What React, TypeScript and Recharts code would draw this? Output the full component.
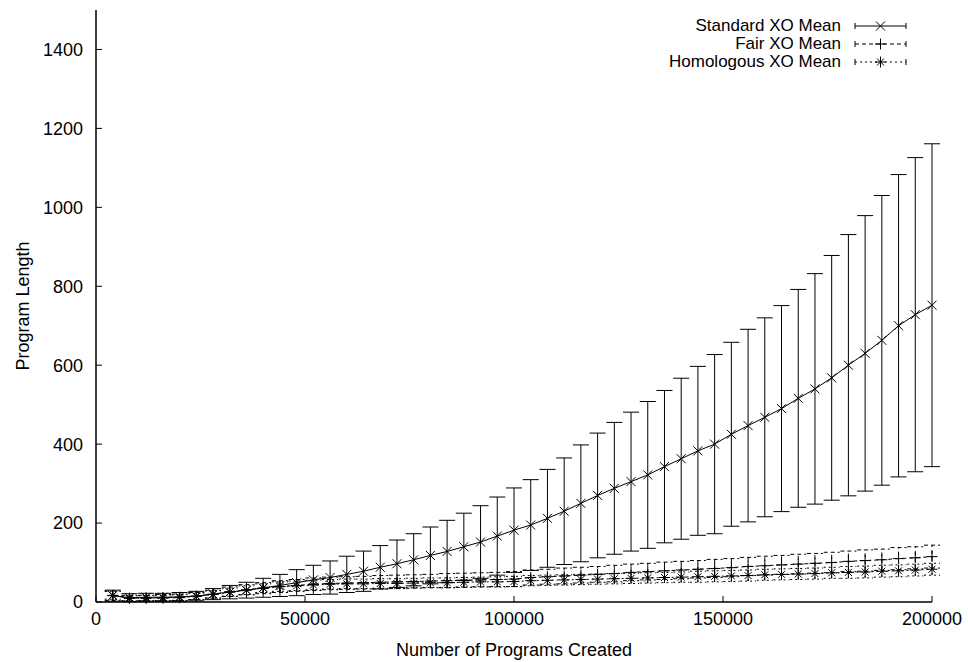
import { LineChart, Line, XAxis, YAxis, ErrorBar } from 'recharts'

// programs created (x)
const created = [
  4000, 8000, 12000, 16000, 20000, 24000, 28000, 32000, 36000, 40000,
  44000, 48000, 52000, 56000, 60000, 64000, 68000, 72000, 76000, 80000,
  84000, 88000, 92000, 96000, 100000, 104000, 108000, 112000, 116000, 120000,
  124000, 128000, 132000, 136000, 140000, 144000, 148000, 152000, 156000, 160000,
  164000, 168000, 172000, 176000, 180000, 184000, 188000, 192000, 196000, 200000,
]

const standardMean = [
  16, 11, 12, 12, 13, 15, 20, 25, 30, 36,
  42, 49, 56, 62, 70, 78, 88, 97, 107, 118,
  128, 140, 152, 167, 182, 195, 212, 230, 250, 270,
  288, 305, 322, 343, 363, 383, 400, 425, 447, 468,
  490, 516, 540, 568, 600, 630, 663, 700, 728, 752,
]
const standardErr = [
  14, 10, 10, 10, 11, 12, 14, 17, 20, 24,
  28, 33, 37, 42, 46, 51, 55, 60, 66, 72,
  79, 85, 92, 99, 107, 115, 124, 135, 148, 158,
  167, 176, 186, 193, 204, 214, 227, 233, 244, 252,
  261, 276, 292, 310, 331, 349, 367, 383, 398, 409,
]

const fairMean = [
  16, 10, 10, 11, 12, 15, 20, 26, 31, 35,
  39, 42, 45, 47, 48, 49, 50, 51, 52, 53,
  54, 55, 56, 57, 58, 62, 64, 66, 68, 70,
  72, 75, 77, 79, 81, 83, 85, 87, 90, 92,
  94, 96, 98, 100, 103, 105, 107, 110, 112, 115,
]
const fairErr = [
  12, 7, 7, 8, 8, 9, 10, 12, 13, 14,
  15, 15, 16, 16, 16, 16, 17, 17, 17, 17,
  18, 18, 18, 18, 19, 19, 19, 20, 20, 20,
  21, 21, 21, 22, 22, 22, 23, 23, 23, 24,
  24, 25, 25, 26, 26, 27, 27, 28, 28, 29,
]

const homologousMean = [
  17, 9, 10, 10, 11, 14, 19, 25, 30, 35,
  39, 41, 43, 45, 46, 46, 47, 47, 48, 49,
  49, 50, 51, 51, 52, 54, 55, 56, 57, 58,
  59, 60, 61, 62, 63, 64, 65, 66, 67, 69,
  70, 71, 72, 74, 75, 76, 78, 79, 81, 83,
]
const homologousErr = [
  10, 6, 6, 6, 7, 8, 9, 10, 11, 11,
  12, 12, 12, 12, 12, 12, 12, 12, 12, 12,
  12, 12, 12, 13, 13, 13, 13, 13, 13, 13,
  13, 13, 13, 13, 13, 14, 14, 14, 14, 14,
  14, 14, 14, 14, 15, 15, 15, 15, 15, 15,
]

const xTicks = [0, 50000, 100000, 150000, 200000]
const yTicks = [0, 200, 400, 600, 800, 1000, 1200, 1400]

const data = created.map((x, i) => ({
  x,
  std: standardMean[i],
  stdErr: standardErr[i],
  fair: fairMean[i],
  fairErr: fairErr[i],
  hom: homologousMean[i],
  homErr: homologousErr[i],
}))

const FONT = '"Liberation Sans", Arial, Helvetica, sans-serif'

type Mark = 'x' | 'plus' | 'star'

function markerPath(kind: Mark, cx: number, cy: number) {
  const s = 4.5
  const d = 3.5
  const cross = `M${cx - s},${cy - s}L${cx + s},${cy + s}M${cx - s},${cy + s}L${cx + s},${cy - s}`
  const plus = `M${cx - s - 1},${cy}L${cx + s + 1},${cy}M${cx},${cy - s - 1}L${cx},${cy + s + 1}`
  if (kind === 'x') return cross
  if (kind === 'plus') return plus
  return `M${cx - d},${cy - d}L${cx + d},${cy + d}M${cx - d},${cy + d}L${cx + d},${cy - d}` + plus
}

const dotFor = (kind: Mark) => (p: any) => (
  <path
    key={`${kind}-${p.index}`}
    d={markerPath(kind, p.cx, p.cy)}
    stroke="#000"
    strokeWidth={1}
    fill="none"
  />
)

const series = [
  { key: 'std', err: 'stdErr', name: 'Standard XO Mean', dash: undefined, mark: 'x' as Mark },
  { key: 'fair', err: 'fairErr', name: 'Fair XO Mean', dash: '4 3', mark: 'plus' as Mark },
  { key: 'hom', err: 'homErr', name: 'Homologous XO Mean', dash: '2 3', mark: 'star' as Mark },
]

function LegendSample({ dash, mark }: { dash?: string; mark: Mark }) {
  return (
    <svg width={53} height={18} style={{ display: 'block' }}>
      <line x1={1} y1={9} x2={52} y2={9} stroke="#000" strokeDasharray={dash} />
      <line x1={1} y1={6} x2={1} y2={12} stroke="#000" />
      <line x1={52} y1={6} x2={52} y2={12} stroke="#000" />
      <path d={markerPath(mark, 26.5, 9)} stroke="#000" fill="none" />
    </svg>
  )
}

const tickStyle = { fill: '#000', fontSize: 18 }

export default function App() {
  return (
    <div style={{ position: 'absolute', top: 0, left: 0, width: 968, height: 662, fontFamily: FONT, background: '#fff' }}>
      <LineChart width={968} height={662} data={data} margin={{ top: 10, right: 36, bottom: 0, left: 0 }}>
        <XAxis
          xAxisId="bottom"
          dataKey="x"
          type="number"
          domain={[0, 200000]}
          ticks={xTicks}
          interval={0}
          height={60}
          tick={tickStyle}
          tickSize={-6}
          tickMargin={16}
          axisLine={{ stroke: '#000', strokeWidth: 1.5 }}
          tickLine={{ stroke: '#000' }}
          label={{ value: 'Number of Programs Created', position: 'insideBottom', offset: 6, fill: '#000', fontSize: 18 }}
        />
        <XAxis
          xAxisId="top"
          orientation="top"
          dataKey="x"
          type="number"
          domain={[0, 200000]}
          ticks={xTicks}
          interval={0}
          height={0}
          tick={false}
          tickSize={-6}
          axisLine={{ stroke: '#000', strokeWidth: 1.5 }}
          tickLine={{ stroke: '#000' }}
        />
        <YAxis
          yAxisId="left"
          type="number"
          domain={[0, 1500]}
          ticks={yTicks}
          interval={0}
          width={96}
          tick={tickStyle}
          tickSize={-6}
          tickMargin={19}
          axisLine={{ stroke: '#000', strokeWidth: 1.5 }}
          tickLine={{ stroke: '#000' }}
          label={{
            value: 'Program Length',
            angle: -90,
            position: 'insideLeft',
            offset: 23,
            fill: '#000',
            fontSize: 18,
            style: { textAnchor: 'middle' },
          }}
        />
        <YAxis
          yAxisId="right"
          orientation="right"
          type="number"
          domain={[0, 1500]}
          ticks={yTicks}
          interval={0}
          width={0}
          tick={false}
          tickSize={-6}
          axisLine={{ stroke: '#000', strokeWidth: 1.5 }}
          tickLine={{ stroke: '#000' }}
        />
        {series.map((s) => (
          <Line
            key={s.key}
            xAxisId="bottom"
            yAxisId="left"
            type="linear"
            dataKey={s.key}
            stroke="#000"
            strokeWidth={1}
            strokeDasharray={s.dash}
            dot={dotFor(s.mark)}
            activeDot={false}
            isAnimationActive={false}
          >
            <ErrorBar dataKey={s.err} width={8} stroke="#000" strokeWidth={1} strokeDasharray={s.dash} direction="y" />
          </Line>
        ))}
      </LineChart>

      <div style={{ position: 'absolute', top: 17, right: 61, fontSize: 17, color: '#000' }}>
        {series.map((s) => (
          <div key={s.key} style={{ display: 'flex', justifyContent: 'flex-end', alignItems: 'center', height: 18, gap: 13 }}>
            <span style={{ lineHeight: '18px', whiteSpace: 'nowrap' }}>{s.name}</span>
            <LegendSample dash={s.dash} mark={s.mark} />
          </div>
        ))}
      </div>
    </div>
  )
}
